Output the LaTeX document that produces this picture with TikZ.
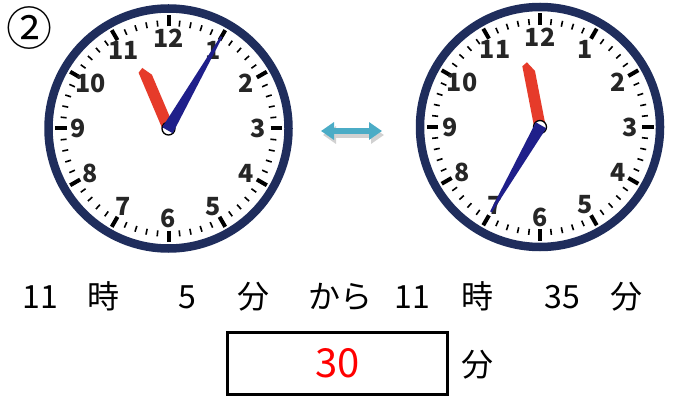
\documentclass[tikz,border=0pt]{standalone}
\usepackage{fontspec}
\newfontfamily\jpfont{Noto Sans CJK JP}
\usepackage{tikz}
\usetikzlibrary{arrows.meta, positioning}
\definecolor{aro}{HTML}{1F2D5C}
\definecolor{rojo}{HTML}{E63B2A}
\definecolor{azul}{HTML}{1F1F8A}
\definecolor{celeste}{HTML}{4BACC6}
\tikzstyle{texto} = [font=\jpfont\fontsize{32}{32}\selectfont, anchor=base, inner sep=0pt]
\tikzstyle{numero} = [font=\jpfont\bfseries\fontsize{25}{25}\selectfont, text=black!85, inner sep=0pt]
\tikzstyle{respuesta} = [draw, line width=3pt, minimum width=220pt, minimum height=62pt, inner sep=0pt, text=red, font=\jpfont\fontsize{40}{40}\selectfont]
\tikzstyle{flecha} = [line width=6pt, {Triangle[length=13pt,width=17pt]}-{Triangle[length=13pt,width=17pt]}]
% reloj: centro, angulo horario, angulo minutero, largo minutero
\newcommand{\reloj}[4]{%
	\begin{scope}[shift={#1}]
		\draw[aro, line width=8.5pt, fill=white] (0,0) circle (120pt);
		\foreach \i in {0,...,59}{
			\pgfmathtruncatemacro\m{mod(\i,5)}
			\ifnum\m=0
				\draw[line width=4pt] (\i*6-90:102) -- (\i*6-90:113.5);
			\else
				\draw[line width=1.6pt] (\i*6-90:102.5) -- (\i*6-90:108.5);
			\fi}
		\foreach \n in {1,...,12}
			\node[numero] at (\n*30-90:90) {\n};
		\begin{scope}[rotate=-#2]
			\fill[rojo] (-5.75,3) -- (5.75,3) -- (5.75,-56) -- (-0.5,-66) -- (-5.75,-63) -- cycle;
		\end{scope}
		\draw[line width=1.3pt, fill=white] (0,0) circle (6.5pt);
		\begin{scope}[rotate=-#3]
			\fill[azul] (-6,2) -- (6,2) -- (1,-#4) -- (-1,-#4) -- cycle;
		\end{scope}
	\end{scope}}

\begin{document}
\begin{tikzpicture}[x=1pt, y=-1pt]
	\useasboundingbox (0,0) rectangle (676,398);
	\node[font=\jpfont\fontsize{46}{46}\selectfont, inner sep=0pt] (num) at (29.5,28.5) {②};
	\reloj{(168.5,128.5)}{337}{30}{106}
	\reloj{(540,127)}{349}{210}{98}
	% flecha entre relojes
	\coordinate (izq) at (321,131);
	\coordinate (der) at (382,131);
	\draw[flecha, black!18, transform canvas={shift={(2pt,-4pt)}}] (izq) -- (der);
	\draw[flecha, celeste] (izq) -- (der);
	% texto
	\node[texto] (h1) at (40,308) {11};
	\node[texto] (ji1) at (103.5,308) {時};
	\node[texto] (m1) at (187.5,308) {5};
	\node[texto] (fun1) at (253,308) {分};
	\node[texto] (kara) at (340.5,308) {から};
	\node[texto] (h2) at (412.5,308) {11};
	\node[texto] (ji2) at (477,308) {時};
	\node[texto] (m2) at (562.5,308) {35};
	\node[texto] (fun2) at (626,308) {分};
	\node[respuesta] (caja) at (337.5,363.5) {30};
	\node[texto] (fun3) at (477,376) {分};
\end{tikzpicture}
\end{document}
